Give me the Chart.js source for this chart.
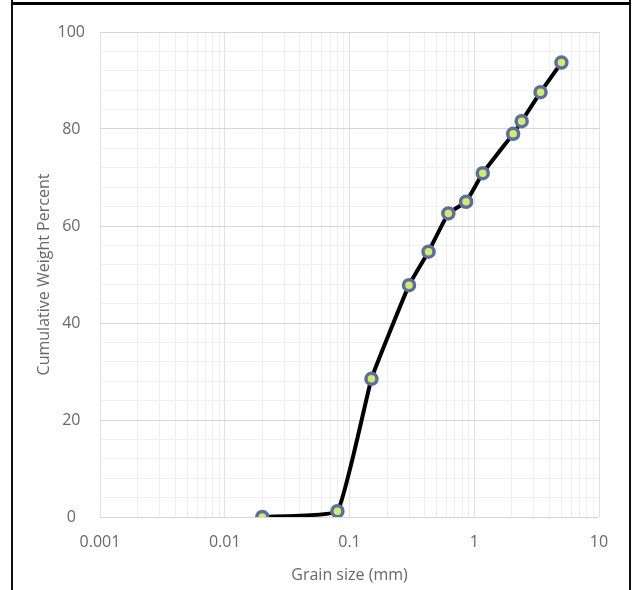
<!DOCTYPE html>
<html>
<head>
<meta charset="utf-8">
<script src="https://cdn.jsdelivr.net/npm/chart.js@4"></script>
<style>
  body { margin: 0; background: #fff; }
  #chart { display: block; }
</style>
</head>
<body>
<canvas id="chart" width="636" height="590"></canvas>
<script>
// sieve sizes (mm) and cumulative passing (%)
var grainSize = [0.02, 0.08, 0.15, 0.3, 0.43, 0.62, 0.86, 1.17, 2.05, 2.4, 3.4, 5.0];
var cumPercent = [0, 1.2, 28.5, 47.8, 54.7, 62.6, 65.0, 70.9, 79.0, 81.6, 87.6, 93.7];

var decades = [0.001, 0.01, 0.1, 1, 10];
var yLabels = [0, 20, 40, 60, 80, 100];

var textColor = "#686868";
var fontFam = "'Open Sans', sans-serif";

var points = grainSize.map((x, i) => ({ x: x, y: cumPercent[i] }));

// log grid: 1..9 in every decade
function logTicks() {
  var t = [];
  decades.forEach((d, i) => {
    var last = i == decades.length - 1;
    for (var m = 1; m <= (last ? 1 : 9); m++) {
      t.push({ value: +(d * m).toPrecision(6), major: m == 1 });
    }
  });
  return t;
}

// black frame round the picture (open at the bottom)
var framePlugin = {
  id: "frame",
  afterDraw(chart) {
    var ctx = chart.ctx;
    ctx.save();
    ctx.fillStyle = "#111";
    ctx.fillRect(11, 0, 2, 590);
    ctx.fillRect(629, 0, 2, 590);
    ctx.fillStyle = "#000";
    ctx.fillRect(11, 2, 620, 3);
    ctx.restore();
  },
};

var config = {
  type: "scatter",
  data: {
    datasets: [
      {
        label: "Cumulative",
        data: points,
        showLine: true,
        borderColor: "#000000",
        borderWidth: 4,
        tension: 0.1,
        pointRadius: 5.5,
        pointBorderWidth: 3.5,
        pointBackgroundColor: "#d2ec6a",
        pointBorderColor: "#5b6f9e",
      },
    ],
  },
  options: {
    responsive: false,
    animation: false,
    layout: { padding: { left: 0, right: 37, top: 32, bottom: 0 } },
    plugins: { legend: { display: false }, tooltip: { enabled: false } },
    scales: {
      x: {
        type: "logarithmic",
        min: 0.001,
        max: 10,
        afterBuildTicks: (s) => { s.ticks = logTicks(); },
        afterFit: (s) => { s.height = 73; },
        border: { display: false },
        grid: {
          drawTicks: false,
          color: (c) => (c.tick && c.tick.major ? "#e2e2e2" : "#efefef"),
        },
        ticks: {
          autoSkip: false,
          maxRotation: 0,
          padding: 16,
          color: textColor,
          font: { family: fontFam, size: 16 },
          callback: (v) => (decades.indexOf(v) >= 0 ? String(v) : ""),
        },
        title: {
          display: true,
          text: "Grain size (mm)",
          color: textColor,
          font: { family: fontFam, size: 16 },
          padding: { top: 0, bottom: 5 },
        },
      },
      y: {
        min: 0,
        max: 100,
        afterFit: (s) => { s.width = 100; },
        border: { display: false },
        grid: {
          drawTicks: false,
          color: (c) => (yLabels.indexOf(c.tick.value) >= 0 ? "#d6d6d6" : "#f0f0f0"),
        },
        ticks: {
          stepSize: 4,
          autoSkip: false,
          padding: 15,
          crossAlign: "center",
          color: textColor,
          font: { family: fontFam, size: 16 },
          callback: (v) => (yLabels.indexOf(v) >= 0 ? v : ""),
        },
        title: {
          display: true,
          text: "Cumulative Weight Percent",
          color: textColor,
          font: { family: fontFam, size: 16 },
          padding: { top: 35, bottom: 0 },
        },
      },
    },
  },
  plugins: [framePlugin],
};

new Chart(document.getElementById("chart"), config);
</script>
</body>
</html>
